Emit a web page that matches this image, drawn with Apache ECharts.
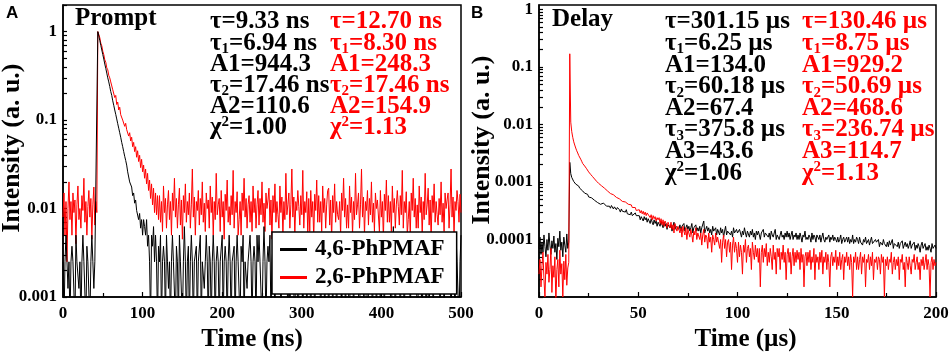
<!DOCTYPE html>
<html>
<head>
<meta charset="utf-8">
<script src="https://cdn.jsdelivr.net/npm/echarts@6/dist/echarts.min.js"></script>
<style>
  html, body { margin: 0; padding: 0; background: #fff; }
  #chart { width: 949px; height: 353px; }
</style>
</head>
<body>
<div id="chart"></div>
<script>
// --- panel A : prompt decay, time in ns (1.25 ns channels) --- //
const timeA = [
  0,1.25,2.5,3.75,5,6.25,7.5,8.75, 10,11.25,12.5,13.75,15,16.25,17.5,18.75,
  20,21.25,22.5,23.75,25,26.25,27.5,28.75, 30,31.25,32.5,33.75,35,36.25,37.5,38.75,
  40,41.25,42.5,43.75,45,46.25,47.5,48.75, 50,51.25,52.5,53.75,55,56.25,57.5,58.75,
  60,61.25,62.5,63.75,65,66.25,67.5,68.75, 70,71.25,72.5,73.75,75,76.25,77.5,78.75,
  80,81.25,82.5,83.75,85,86.25,87.5,88.75, 90,91.25,92.5,93.75,95,96.25,97.5,98.75,
  100,101.25,102.5,103.75,105,106.25,107.5,108.75, 110,111.25,112.5,113.75,115,116.25,117.5,118.75,
  120,121.25,122.5,123.75,125,126.25,127.5,128.75, 130,131.25,132.5,133.75,135,136.25,137.5,138.75,
  140,141.25,142.5,143.75,145,146.25,147.5,148.75, 150,151.25,152.5,153.75,155,156.25,157.5,158.75,
  160,161.25,162.5,163.75,165,166.25,167.5,168.75, 170,171.25,172.5,173.75,175,176.25,177.5,178.75,
  180,181.25,182.5,183.75,185,186.25,187.5,188.75, 190,191.25,192.5,193.75,195,196.25,197.5,198.75,
  200,201.25,202.5,203.75,205,206.25,207.5,208.75, 210,211.25,212.5,213.75,215,216.25,217.5,218.75,
  220,221.25,222.5,223.75,225,226.25,227.5,228.75, 230,231.25,232.5,233.75,235,236.25,237.5,238.75,
  240,241.25,242.5,243.75,245,246.25,247.5,248.75, 250,251.25,252.5,253.75,255,256.25,257.5,258.75,
  260,261.25,262.5,263.75,265,266.25,267.5,268.75, 270,271.25,272.5,273.75,275,276.25,277.5,278.75,
  280,281.25,282.5,283.75,285,286.25,287.5,288.75, 290,291.25,292.5,293.75,295,296.25,297.5,298.75,
  300,301.25,302.5,303.75,305,306.25,307.5,308.75, 310,311.25,312.5,313.75,315,316.25,317.5,318.75,
  320,321.25,322.5,323.75,325,326.25,327.5,328.75, 330,331.25,332.5,333.75,335,336.25,337.5,338.75,
  340,341.25,342.5,343.75,345,346.25,347.5,348.75, 350,351.25,352.5,353.75,355,356.25,357.5,358.75,
  360,361.25,362.5,363.75,365,366.25,367.5,368.75, 370,371.25,372.5,373.75,375,376.25,377.5,378.75,
  380,381.25,382.5,383.75,385,386.25,387.5,388.75, 390,391.25,392.5,393.75,395,396.25,397.5,398.75,
  400,401.25,402.5,403.75,405,406.25,407.5,408.75, 410,411.25,412.5,413.75,415,416.25,417.5,418.75,
  420,421.25,422.5,423.75,425,426.25,427.5,428.75, 430,431.25,432.5,433.75,435,436.25,437.5,438.75,
  440,441.25,442.5,443.75,445,446.25,447.5,448.75, 450,451.25,452.5,453.75,455,456.25,457.5,458.75,
  460,461.25,462.5,463.75,465,466.25,467.5,468.75, 470,471.25,472.5,473.75,475,476.25,477.5,478.75,
  480,481.25,482.5,483.75,485,486.25,487.5,488.75, 490,491.25,492.5,493.75,495,496.25,497.5,498.75,
  500
];
const blackA = [
  0.0025,0.0005,0.0025,0.005,0.0025,0.00125,0.0025,0.0005,0.0025,0.00375,
  0.0025,0.0025,0.0005,0.005,0.0025,0.0025,0.00125,0.0025,0.0005,0.0025,
  0.005,0.0025,0.0025,0.0005,0.00375,0.0025,0.0025,0.0005,0.0025,0.005,
  0.0025,0.00125,0.0025,0.0025,0.0025,
  1.0,0.89,0.79,0.70,0.62,0.55,0.49,0.43,0.385,0.34,
  0.30,0.27,0.24,0.21,0.19,0.165,0.147,0.13,0.116,0.103,
  0.091,0.081,0.072,0.064,0.056,0.05,0.044,0.039,0.035,0.031,
  0.026,0.025,0.02,0.019,0.0175,0.014,0.015,0.0115,0.0125,0.0095,
  0.01,0.0075,0.0088,0.006,0.0075,0.005,0.0075,0.00625,0.005,0.0075,
  0.00375,0.005,0.0025,0.0005,0.005,0.00375,0.00625,0.0025,0.005,0.0025,0.0005,0.00375,
  0.0025,0.005,0.0005,0.0025,0.00375,0.0025,0.0005,0.005,0.0025,0.00125,
  0.0025,0.0005,0.0025,0.005,0.0025,0.0025,0.0005,0.00375,0.0025,0.0005,
  0.005,0.0025,0.0025,0.0005,0.0025,0.00625,0.0025,0.0005,0.0025,0.00375,
  0.0005,0.0025,0.005,0.0025,0.0005,0.0025,0.0025,0.00375,0.0005,0.0025,
  0.0025,0.005,0.0005,0.0025,0.0025,0.00125,0.0025,0.005,0.0025,0.0005,
  0.00375,0.0025,0.0005,0.0025,0.005,0.0025,0.0005,0.0025,0.00375,0.0025,
  0.0005,0.0025,0.0025,0.005,0.0005,0.0025,0.00375,0.0025,0.0005,0.0025,
  0.005,0.0025,0.0005,0.0025,0.0025,0.00375,0.0005,0.0025,0.005,0.0025,
  0.0025,0.0005,0.00375,0.0025,0.005,0.0005,0.0025,0.0025,0.00125,0.0025,
  0.0025,0.005,0.0025,0.0005,0.0025,0.00375,0.0025,0.0005,0.005,0.0025,
  0.005,0.0025,0.0025,0.0005,0.0025,0.00625,0.0025,0.0005,0.0025,0.00375,
  0.0025,0.005,0.0005,0.0025,0.00375,0.0025,0.0005,0.005,0.0025,0.00125,
  0.0025,0.005,0.0005,0.0025,0.0025,0.00125,0.0025,0.005,0.0025,0.0005,
  0.0025,0.0005,0.0025,0.005,0.0025,0.0025,0.0005,0.00375,0.0025,0.0005,
  0.0005,0.0025,0.005,0.0025,0.0005,0.0025,0.0025,0.00375,0.0005,0.0025,
  0.00375,0.0025,0.0005,0.0025,0.005,0.0025,0.0005,0.0025,0.00375,0.0025,
  0.005,0.0025,0.0005,0.0025,0.0025,0.00375,0.0005,0.0025,0.005,0.0025,
  0.0005,0.0025,0.0025,0.005,0.0005,0.0025,0.00375,0.0025,0.0005,0.0025,
  0.0025,0.005,0.0025,0.0005,0.0025,0.00375,0.0025,0.0005,0.005,0.0025,
  0.0025,0.0005,0.00375,0.0025,0.005,0.0005,0.0025,0.0025,0.00125,0.0025,
  0.0025,0.0005,0.0025,0.005,0.0025,0.0025,0.0005,0.00375,0.0025,0.0005,
  0.0005,0.0025,0.005,0.0025,0.0005,0.0025,0.0025,0.00375,0.0005,0.0025,
  0.0025,0.005,0.0005,0.0025,0.00375,0.0025,0.0005,0.005,0.0025,0.00125,
  0.005,0.0025,0.0025,0.0005,0.0025,0.00625,0.0025,0.0005,0.0025,0.00375,
  0.00375,0.0025,0.0005,0.0025,0.005,0.0025,0.0005,0.0025,0.00375,0.0025,
  0.0025,0.005,0.0005,0.0025,0.0025,0.00125,0.0025,0.005,0.0025,0.0005,
  0.0005,0.0025,0.0025,0.005,0.0005,0.0025,0.00375,0.0025,0.0005,0.0025,
  0.0025,0.0005,0.00375,0.0025,0.005,0.0005,0.0025,0.0025,0.00125,0.0025,
  0.005,0.0025,0.0005,0.0025,0.0025,0.00375,0.0005,0.0025,0.005,0.0025,
  0.0025,0.005,0.0025,0.0005,0.0025,0.00375,0.0025,0.0005,0.005,0.0025,
  0.0025,0.0005,0.0025,0.005
];
const redA = [
  0.008,0.015,0.005,0.012,0.0025,0.01,0.02,0.0075,0.012,0.005,
  0.015,0.009,0.0125,0.004,0.011,0.018,0.0075,0.01,0.006,0.014,
  0.0095,0.022,0.007,0.012,0.005,0.0105,0.016,0.008,0.013,0.0045,
  0.011,0.0175,0.0065,0.012,0.009,
  1.0,0.93,0.85,0.74,0.69,0.6,0.55,0.48,0.45,0.39,
  0.37,0.32,0.3,0.27,0.26,0.22,0.215,0.18,0.19,0.15,
  0.16,0.13,0.14,0.115,0.12,0.1,0.105,0.085,0.092,0.078,
  0.082,0.066,0.072,0.058,0.064,0.05,0.056,0.044,0.05,0.038,
  0.045,0.034,0.04,0.029,0.036,0.026,0.031,0.022,0.028,0.019,
  0.025,0.016,0.021,0.013,0.019,0.011,0.017,0.009,0.015,0.0085,0.014,0.0075,
  0.014,0.007,0.012,0.0055,0.018,0.009,0.013,0.006,0.011,0.016,
  0.0075,0.012,0.005,0.015,0.0095,0.022,0.008,0.013,0.006,0.011,
  0.017,0.0065,0.0125,0.0045,0.014,0.009,0.019,0.007,0.012,0.0085,
  0.015,0.006,0.011,0.028,0.008,0.0135,0.005,0.012,0.0095,0.016,
  0.0065,0.013,0.0085,0.02,0.007,0.0115,0.0055,0.015,0.01,0.0125,
  0.006,0.018,0.009,0.0135,0.005,0.012,0.0075,0.025,0.0085,0.011,
  0.013,0.0055,0.016,0.008,0.012,0.0045,0.0145,0.0095,0.021,0.007,
  0.0105,0.0065,0.014,0.0085,0.027,0.006,0.012,0.009,0.0155,0.005,
  0.0075,0.012,0.005,0.015,0.0095,0.022,0.008,0.013,0.006,0.011,
  0.014,0.007,0.012,0.0055,0.018,0.009,0.013,0.006,0.011,0.016,
  0.0065,0.013,0.0085,0.02,0.007,0.0115,0.0055,0.015,0.01,0.0125,
  0.017,0.0065,0.0125,0.0045,0.014,0.009,0.019,0.007,0.012,0.0085,
  0.006,0.018,0.009,0.0135,0.005,0.012,0.0075,0.025,0.0085,0.011,
  0.015,0.006,0.011,0.028,0.008,0.0135,0.005,0.012,0.0095,0.016,
  0.0105,0.0065,0.014,0.0085,0.027,0.006,0.012,0.009,0.0155,0.005,
  0.013,0.0055,0.016,0.008,0.012,0.0045,0.0145,0.0095,0.021,0.007,
  0.014,0.007,0.012,0.0055,0.018,0.009,0.013,0.006,0.011,0.016,
  0.017,0.0065,0.0125,0.0045,0.014,0.009,0.019,0.007,0.012,0.0085,
  0.0075,0.012,0.005,0.015,0.0095,0.022,0.008,0.013,0.006,0.011,
  0.006,0.018,0.009,0.0135,0.005,0.012,0.0075,0.025,0.0085,0.011,
  0.015,0.006,0.011,0.028,0.008,0.0135,0.005,0.012,0.0095,0.016,
  0.0065,0.013,0.0085,0.02,0.007,0.0115,0.0055,0.015,0.01,0.0125,
  0.013,0.0055,0.016,0.008,0.012,0.0045,0.0145,0.0095,0.021,0.007,
  0.014,0.007,0.012,0.0055,0.018,0.009,0.013,0.006,0.011,0.016,
  0.0105,0.0065,0.014,0.0085,0.027,0.006,0.012,0.009,0.0155,0.005,
  0.0075,0.012,0.005,0.015,0.0095,0.022,0.008,0.013,0.006,0.011,
  0.006,0.018,0.009,0.0135,0.005,0.012,0.0075,0.025,0.0085,0.011,
  0.017,0.0065,0.0125,0.0045,0.014,0.009,0.019,0.007,0.012,0.0085,
  0.0065,0.013,0.0085,0.02,0.007,0.0115,0.0055,0.015,0.01,0.0125,
  0.015,0.006,0.011,0.028,0.008,0.0135,0.005,0.012,0.0095,0.016,
  0.012,0.007,0.0145,0.009
];

// --- panel B : delayed decay, time in µs (0.5 µs channels) --- //
const timeB = [
  0,0.5,1,1.5,2,2.5,3,3.5,4,4.5, 5,5.5,6,6.5,7,7.5,8,8.5,9,9.5,
  10,10.5,11,11.5,12,12.5,13,13.5,14,14.5, 15,15.5,16,16.5,17,17.5,18,18.5,19,19.5,
  20,20.5,21,21.5,22,22.5,23,23.5,24,24.5, 25,25.5,26,26.5,27,27.5,28,28.5,29,29.5,
  30,30.5,31,31.5,32,32.5,33,33.5,34,34.5, 35,35.5,36,36.5,37,37.5,38,38.5,39,39.5,
  40,40.5,41,41.5,42,42.5,43,43.5,44,44.5, 45,45.5,46,46.5,47,47.5,48,48.5,49,49.5,
  50,50.5,51,51.5,52,52.5,53,53.5,54,54.5, 55,55.5,56,56.5,57,57.5,58,58.5,59,59.5,
  60,60.5,61,61.5,62,62.5,63,63.5,64,64.5, 65,65.5,66,66.5,67,67.5,68,68.5,69,69.5,
  70,70.5,71,71.5,72,72.5,73,73.5,74,74.5, 75,75.5,76,76.5,77,77.5,78,78.5,79,79.5,
  80,80.5,81,81.5,82,82.5,83,83.5,84,84.5, 85,85.5,86,86.5,87,87.5,88,88.5,89,89.5,
  90,90.5,91,91.5,92,92.5,93,93.5,94,94.5, 95,95.5,96,96.5,97,97.5,98,98.5,99,99.5,
  100,100.5,101,101.5,102,102.5,103,103.5,104,104.5, 105,105.5,106,106.5,107,107.5,108,108.5,109,109.5,
  110,110.5,111,111.5,112,112.5,113,113.5,114,114.5, 115,115.5,116,116.5,117,117.5,118,118.5,119,119.5,
  120,120.5,121,121.5,122,122.5,123,123.5,124,124.5, 125,125.5,126,126.5,127,127.5,128,128.5,129,129.5,
  130,130.5,131,131.5,132,132.5,133,133.5,134,134.5, 135,135.5,136,136.5,137,137.5,138,138.5,139,139.5,
  140,140.5,141,141.5,142,142.5,143,143.5,144,144.5, 145,145.5,146,146.5,147,147.5,148,148.5,149,149.5,
  150,150.5,151,151.5,152,152.5,153,153.5,154,154.5, 155,155.5,156,156.5,157,157.5,158,158.5,159,159.5,
  160,160.5,161,161.5,162,162.5,163,163.5,164,164.5, 165,165.5,166,166.5,167,167.5,168,168.5,169,169.5,
  170,170.5,171,171.5,172,172.5,173,173.5,174,174.5, 175,175.5,176,176.5,177,177.5,178,178.5,179,179.5,
  180,180.5,181,181.5,182,182.5,183,183.5,184,184.5, 185,185.5,186,186.5,187,187.5,188,188.5,189,189.5,
  190,190.5,191,191.5,192,192.5,193,193.5,194,194.5, 195,195.5,196,196.5,197,197.5,198,198.5,199,199.5,
  200
];
const blackB = [
  7e-5,1.1e-4,5.5e-5,9e-5,6e-5,1.2e-4,7.5e-5,5e-5,1.0e-4,6.5e-5,
  1.3e-4,8e-5,5.5e-5,9.5e-5,7e-5,1.15e-4,6e-5,8.5e-5,4.5e-5,1.05e-4,
  7.5e-5,1.4e-4,6.5e-5,9e-5,5e-5,1.1e-4,8e-5,6e-5,1.25e-4,7e-5,9e-5,
  0.0022,
  0.0014,0.0012,0.00115,0.00102,0.001,0.00092,0.0009,0.00086,0.00085,0.00078,
  0.00078,0.00072,0.0007,0.0007,0.00064,0.00063,0.0006,0.00061,0.00055,0.00056,
  0.00052,0.00053,0.00049,0.0005,0.00048,0.00046,0.00048,0.00044,0.00045,
  0.00045,0.00041,0.00044,0.00039,0.00043,0.0004,0.00042,0.00038,0.00041,0.00039,
  0.00038,0.00035,0.00039,0.00036,0.00034,0.00037,0.00035,0.00033,0.00036,0.00034,
  0.00033,0.0003,0.00034,0.00031,0.00029,0.00032,0.0003,0.00033,0.00028,0.0003,
  0.00029,0.00027,0.0003,0.00026,0.00028,0.00025,0.00029,0.00026,0.00027,0.00025,
  0.00026,0.00022,0.00025,0.00023,0.00021,0.00025,0.00022,0.00024,0.0002,0.00023,
  0.00022,0.00019,0.00023,0.0002,0.00018,0.00022,0.00019,0.00021,0.00017,0.0002,
  0.0002,0.00017,0.00021,0.00018,0.00016,0.0002,0.00017,0.00019,0.00015,0.00018,
  0.00019,0.00016,0.00018,0.00014,0.00017,0.0002,0.00015,0.00017,0.00016,0.00018,
  0.00015,0.00018,0.00014,0.00017,0.00016,0.00019,0.00014,0.00016,0.00018,0.00015,
  0.00017,0.00014,0.00016,0.00019,0.00013,0.00016,0.00015,0.00018,0.00014,0.00016,
  0.00014,0.00017,0.00013,0.00016,0.00015,0.00021,0.00013,0.00015,0.00017,0.00014,
  0.00016,0.00013,0.00015,0.00012,0.00017,0.00014,0.00013,0.00016,0.00012,0.00015,
  0.00014,0.00012,0.00016,0.00013,0.00015,0.00011,0.00014,0.00017,0.00012,0.00014,
  0.00013,0.00015,0.00012,0.00014,0.00011,0.00016,0.00013,0.00012,0.00015,0.00013,
  0.00012,0.00015,0.00013,0.00011,0.00014,0.00012,0.00016,0.00013,0.00011,0.00014,
  0.00013,0.00011,0.00014,0.00012,0.00015,0.00011,0.00013,0.0001,0.00014,0.00012,
  0.00014,0.00012,0.0001,0.00013,0.00012,0.00015,0.00011,0.00013,0.00012,0.00014,
  0.00011,0.00013,0.0001,0.00014,0.00012,0.00011,0.00013,0.00015,0.0001,0.00012,
  0.00013,0.0001,0.00012,0.00014,0.00011,0.00012,0.0001,0.00013,0.00011,0.00014,
  0.00011,0.00013,0.0001,0.00012,0.00014,0.0001,0.00012,0.00011,0.00013,0.0001,
  0.00012,0.0001,0.00013,0.00011,0.00009,0.00012,0.00011,0.00014,0.0001,0.00011,
  0.0001,0.00012,0.00011,0.00009,0.00013,0.0001,0.00012,0.00011,0.00009,0.00012,
  0.00011,0.0001,0.00012,0.00009,0.00011,0.00013,0.0001,0.00009,0.00011,0.0001,
  0.0001,0.00012,0.00009,0.00011,0.0001,0.00012,0.000095,0.00011,0.0001,0.00009,
  0.00011,0.00009,0.0001,0.00012,0.000085,0.0001,0.00011,0.00009,0.0001,0.00011,
  0.00009,0.00011,0.000085,0.0001,0.00009,0.00012,0.000085,0.0001,0.00009,0.00011,
  0.0001,0.000085,0.00011,0.00009,0.000095,0.00008,0.0001,0.00009,0.00011,0.000085,
  0.00009,0.0001,0.00008,0.000095,0.00011,0.000085,0.00009,0.00008,0.0001,0.00009,
  0.000085,0.0001,0.000075,0.00009,0.000095,0.00008,0.0001,0.000085,0.00009,0.000075,
  0.00009,0.000075,0.000095,0.00008,0.000085,0.0001,0.00007,0.000085,0.00008,0.00009,
  0.000075,0.00009,0.00007,0.000085,0.00008,0.000095,0.00007,0.00008,0.00009,0.000075,
  0.000085,0.00007,0.00008,0.000095,0.00007,0.00008,0.000075,0.00009,0.000065,0.00008,
  0.00007,0.000085,0.000075,0.00006,0.00008,0.00009,0.00007,0.000075,0.000085,0.000065,
  0.000075,0.000065,0.00008,0.00007,0.00006,0.000085,0.00007,0.000065,0.00008,0.00007
];
const redB = [
  2.5e-5,4.5e-5,1.5e-5,3.5e-5,6e-5,2e-5,1e-5,4e-5,2.5e-5,5.5e-5,
  1.8e-5,3e-5,7e-5,1.2e-5,3.5e-5,2.2e-5,5e-5,0.8e-5,3e-5,4.5e-5,
  1.5e-5,6.5e-5,2.5e-5,3.8e-5,1e-5,4.2e-5,2e-5,5.5e-5,1.6e-5,3.2e-5,4e-5,
  0.17,
  0.011,0.0075,0.006,0.005,0.0044,0.0039,0.0035,0.0032,0.0029,0.0027,
  0.0025,0.0023,0.0021,0.002,0.0019,0.0018,0.0017,0.0016,0.0015,0.00143,
  0.00136,0.0013,0.00124,0.00118,0.00113,0.00108,0.00103,0.00099,0.00095,
  0.00091,0.00088,0.00086,0.00082,0.0008,0.00078,0.00074,0.00073,0.0007,0.00068,
  0.00067,0.00063,0.00064,0.00059,0.0006,0.00056,0.00058,0.00054,0.00055,0.00052,
  0.00051,0.00048,0.0005,0.00046,0.00047,0.00044,0.00045,0.00042,0.00043,0.00041,
  0.00041,0.00038,0.0004,0.00036,0.00037,0.00034,0.00036,0.00032,0.00034,0.00032,
  0.00033,0.00029,0.00032,0.00028,0.00031,0.00027,0.0003,0.00026,0.00029,0.00027,
  0.00028,0.00024,0.00027,0.00022,0.00026,0.00023,0.00025,0.00021,0.00024,0.00022,
  0.00024,0.00019,0.00023,0.00018,0.00022,0.00017,0.00021,0.00019,0.00016,0.0002,
  0.00021,0.00016,0.0002,0.00015,0.00018,0.00013,0.00019,0.00016,0.00014,0.00017,
  0.00018,0.00013,0.00016,0.00011,0.00017,0.00014,0.00012,0.00016,0.0001,0.00015,
  0.00016,0.00011,0.00015,0.00012,0.00009,0.00014,0.00012,0.00016,0.0001,0.00013,
  0.00014,0.0001,0.00013,0.00008,0.00012,0.00015,0.00009,0.00012,0.00011,0.00007,
  0.00013,0.00009,0.00011,0.00006,0.00012,0.0001,0.00008,0.00013,0.00009,0.00011,
  0.00011,0.00007,0.0001,0.00004,0.00009,0.00012,0.00007,0.0001,0.00005,0.00009,
  0.0001,0.00006,0.00009,0.00003,0.00008,0.00011,0.00006,0.00009,0.00007,0.00004,
  0.00009,0.00005,0.00008,0.00006,0.000025,0.00008,0.00006,0.0001,0.00004,0.00007,
  0.00008,0.00005,0.00007,0.00003,0.00009,0.00006,0.000045,0.00008,0.00005,0.00007,
  0.00004,0.00007,0.000015,0.00006,0.00008,0.00004,0.00007,0.00005,0.000085,0.000035,
  0.00006,0.00004,0.00007,0.00005,0.00003,0.00008,0.000045,0.00006,0.000025,0.00007,
  0.00005,0.00007,0.00003,0.00006,0.000045,0.00008,0.00004,0.00006,0.00002,0.000055,
  0.00007,0.00004,0.00006,0.000025,0.00005,0.00007,0.000035,0.00006,0.00004,0.000065,
  0.000045,0.00006,0.00003,0.00007,0.00004,0.000055,0.000015,0.00005,0.00006,0.000035,
  0.00006,0.00004,0.000065,0.00003,0.00005,0.00004,0.00007,0.00002,0.000055,0.00004,
  0.00005,0.00003,0.00006,0.00004,0.000065,0.000025,0.00005,0.00004,0.00006,0.00003,
  0.000055,0.00004,0.000015,0.00005,0.00006,0.000035,0.00005,0.00004,0.000065,0.00003,
  0.00005,0.000035,0.00006,0.00003,0.000045,0.000055,0.00002,0.00005,0.00004,0.00006,
  0.000035,0.00005,0.00003,0.000055,0.00004,0.00001,0.00005,0.00004,0.00006,0.00003,
  0.00005,0.00003,0.000045,0.00006,0.000025,0.00005,0.00004,0.000055,0.000015,0.000045,
  0.00004,0.000055,0.00003,0.00005,0.000035,0.00006,0.00002,0.000045,0.00004,0.00005,
  0.00003,0.00005,0.000045,0.000025,0.000055,0.00004,0.00005,0.00001,0.000045,0.000035,
  0.00005,0.00003,0.000045,0.00004,0.00006,0.000025,0.00004,0.00005,0.00003,0.000045,
  0.000035,0.00005,0.00002,0.000045,0.00004,0.000055,0.00003,0.00004,0.000015,0.00005,
  0.00004,0.00003,0.00005,0.000035,0.000025,0.000045,0.00004,0.000055,0.00003,0.00004,
  0.00005,0.00003,0.00004,0.00002,0.000045,0.000035,0.00005,0.00003,0.00004,0.000055,
  0.00003,0.000045,0.000035,0.00001,0.00004,0.00005,0.00003,0.000045,0.000035,0.00004
];

// --- tick labels and annotation texts --- //
const yLabelsA = ['0.001', '0.01', '0.1', '1'];
const yLabelsB = ['0.0001', '0.001', '0.01', '0.1', '1'];
const decadesA = [0.001, 0.01, 0.1, 1];
const decadesB = [0.00001, 0.0001, 0.001, 0.01, 0.1, 1];
const tickMult = [1, 2, 3, 4, 5, 6, 7, 8, 9];
const seriesNames = ['4,6-PhPMAF', '2,6-PhPMAF'];

const fitBlackA = ['τ=9.33 ns', 'τ_1=6.94 ns', 'A1=944.3', 'τ_2=17.46 ns', 'A2=110.6', 'χ^2=1.00'];
const fitRedA = ['τ=12.70 ns', 'τ_1=8.30 ns', 'A1=248.3', 'τ_2=17.46 ns', 'A2=154.9', 'χ^2=1.13'];
const fitBlackB = ['τ=301.15 µs', 'τ_1=6.25 µs', 'A1=134.0', 'τ_2=60.18 µs', 'A2=67.4', 'τ_3=375.8 µs', 'A3=43.6', 'χ^2=1.06'];
const fitRedB = ['τ=130.46 µs', 'τ_1=8.75 µs', 'A1=929.2', 'τ_2=50.69 µs', 'A2=468.6', 'τ_3=236.74 µs', 'A3=114.7', 'χ^2=1.13'];

const SERIF = 'Liberation Serif';
const RED = '#ff0000';
const BLACK = '#000000';

const pairs = (t, v) => t.map((x, i) => [x, v[i]]);
const logTicks = (decades, max) =>
  decades.flatMap(d => tickMult.map(m => +(m * d).toPrecision(3))).filter(v => v <= max);

function xAxisCfg(grid, max, interval, name, namePad) {
  return {
    gridIndex: grid, type: 'value', min: 0, max: max, interval: interval,
    axisLine: { show: true, lineStyle: { color: '#000', width: 1.5 } },
    axisTick: { show: true, inside: true, length: 5, lineStyle: { color: '#000', width: 1.2 } },
    minorTick: { show: true, splitNumber: 2, length: 4, lineStyle: { color: '#000', width: 1.2 } },
    axisLabel: { color: '#000', fontFamily: SERIF, fontWeight: 'bold', fontSize: 17, margin: 8 },
    splitLine: { show: false },
    name: name, nameLocation: 'middle', nameGap: 28,
    nameTextStyle: { color: '#000', fontFamily: SERIF, fontWeight: 'bold', fontSize: 25, padding: namePad }
  };
}

function yAxisCfg(grid, min, max, labels, decades) {
  return {
    gridIndex: grid, type: 'log', logBase: 10, min: min, max: max,
    axisLine: { show: true, lineStyle: { color: '#000', width: 1.5 } },
    axisTick: {
      show: true, inside: true, length: 4,
      customValues: logTicks(decades, max),
      lineStyle: { color: '#000', width: 1.2 }
    },
    axisLabel: {
      color: '#000', fontFamily: SERIF, fontWeight: 'bold', fontSize: 17, margin: 6,
      customValues: labels.map(Number),
      formatter: v => labels.find(s => Math.abs(Math.log10(Number(s)) - Math.log10(v)) < 1e-6) || ''
    },
    splitLine: { show: false }
  };
}

// --- texte avec indices / exposants : un élément par morceau --- //
const measureCtx = document.createElement('canvas').getContext('2d');
function textWidth(str, size) {
  measureCtx.font = 'bold ' + size + 'px "' + SERIF + '"';
  return measureCtx.measureText(str).width;
}

function fitTexts(lines, x, y0, step, color) {
  const out = [];
  lines.forEach((s, i) => {
    const y = y0 + i * step;
    let cx = x;
    s.split(/([_^]\d)/).filter(p => p.length).forEach(part => {
      let str = part, size = 25, dy = 0;
      if (part[0] === '_') { str = part.slice(1); size = 15; dy = 6; }
      else if (part[0] === '^') { str = part.slice(1); size = 15; dy = -6; }
      out.push({
        type: 'text', x: cx, y: y + dy, z: 20,
        style: { text: str, fill: color, fontFamily: SERIF, fontWeight: 'bold', fontSize: size,
          align: 'left', verticalAlign: 'middle', textAlign: 'left', textVerticalAlign: 'middle' }
      });
      cx += textWidth(str, size);
    });
  });
  return out;
}

function plainText(text, x, y, font, rotation) {
  return {
    type: 'text', x: x, y: y, rotation: rotation || 0, z: 20,
    style: {
      text: text, fill: '#000', font: font,
      align: rotation ? 'center' : 'left', verticalAlign: 'middle',
      textAlign: rotation ? 'center' : 'left', textVerticalAlign: 'middle'
    }
  };
}

const chart = echarts.init(document.getElementById('chart'), null, { renderer: 'canvas' });

const option = {
  animation: false,
  backgroundColor: '#fff',
  grid: [
    { left: 63, top: 5, width: 398, height: 292, show: true, borderColor: '#000', borderWidth: 1.5, backgroundColor: 'transparent', outerBoundsMode: 'none' },
    { left: 539, top: 5, width: 397, height: 292, show: true, borderColor: '#000', borderWidth: 1.5, backgroundColor: 'transparent', outerBoundsMode: 'none' }
  ],
  xAxis: [
    xAxisCfg(0, 500, 100, 'Time (ns)', [0, 20, 0, 0]),
    xAxisCfg(1, 200, 50, 'Time (µs)', [0, 0, 0, 16])
  ],
  yAxis: [
    yAxisCfg(0, 0.001, 2, yLabelsA, decadesA),
    yAxisCfg(1, 0.00001, 1.2, yLabelsB, decadesB)
  ],
  legend: {
    data: seriesNames,
    orient: 'vertical', left: 272, top: 232, z: 10,
    backgroundColor: '#fff', borderColor: '#000', borderWidth: 1.5, borderRadius: 0,
    padding: [6, 12, 5, 8], itemGap: 5, itemWidth: 27, itemHeight: 3, icon: 'rect',
    selectedMode: false,
    textStyle: { color: '#000', fontFamily: SERIF, fontWeight: 'bold', fontSize: 23, lineHeight: 22, padding: [0, 0, 0, 3] }
  },
  series: [
    { name: seriesNames[1], type: 'line', xAxisIndex: 0, yAxisIndex: 0, data: pairs(timeA, redA),
      showSymbol: false, symbol: 'none', color: RED, lineStyle: { color: RED, width: 1 } },
    { name: seriesNames[0], type: 'line', xAxisIndex: 0, yAxisIndex: 0, data: pairs(timeA, blackA),
      showSymbol: false, symbol: 'none', color: BLACK, lineStyle: { color: BLACK, width: 1 } },
    { name: seriesNames[0], type: 'line', xAxisIndex: 1, yAxisIndex: 1, data: pairs(timeB, blackB),
      showSymbol: false, symbol: 'none', color: BLACK, lineStyle: { color: BLACK, width: 1 } },
    { name: seriesNames[1], type: 'line', xAxisIndex: 1, yAxisIndex: 1, data: pairs(timeB, redB),
      showSymbol: false, symbol: 'none', color: RED, lineStyle: { color: RED, width: 1 } }
  ],
  graphic: [
    plainText('A', 6, 13, 'bold 17px "Liberation Sans", Arial, sans-serif'),
    plainText('B', 471, 13, 'bold 17px "Liberation Sans", Arial, sans-serif'),
    plainText('Prompt', 75, 19, 'bold 25px "' + SERIF + '"'),
    plainText('Delay', 552, 20, 'bold 25px "' + SERIF + '"'),
    plainText('Intensity (a. u.)', 12, 148, 'bold 26px "' + SERIF + '"', Math.PI / 2),
    plainText('Intensity (a. u.)', 482, 140, 'bold 26px "' + SERIF + '"', Math.PI / 2)
  ]
    .concat(fitTexts(fitBlackA, 210, 22, 21.2, BLACK))
    .concat(fitTexts(fitRedA, 330, 22, 21.2, RED))
    .concat(fitTexts(fitBlackB, 665, 22, 21.6, BLACK))
    .concat(fitTexts(fitRedB, 802, 22, 21.6, RED))
};

chart.setOption(option);
</script>
</body>
</html>
